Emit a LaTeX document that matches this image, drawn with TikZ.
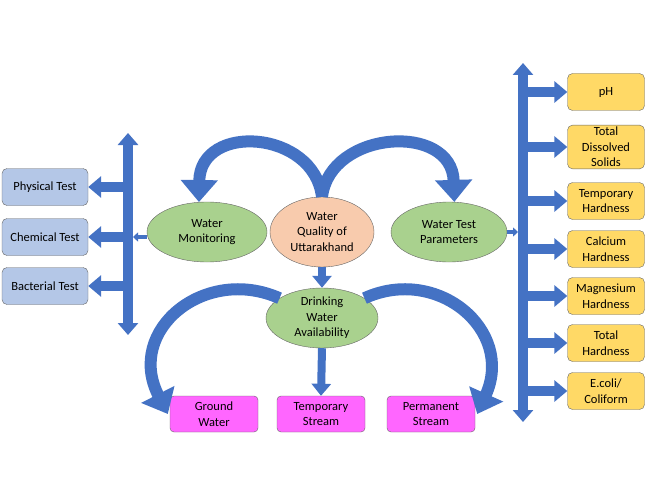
\documentclass[tikz,border=0pt]{standalone}
\usepackage{fontspec}
\setmainfont{Carlito}
\usetikzlibrary{arrows.meta,shapes.geometric,positioning}
\definecolor{barBlue}{RGB}{68,114,196}
\definecolor{boxBlue}{RGB}{180,199,231}
\definecolor{boxGold}{RGB}{255,217,102}
\definecolor{boxPink}{RGB}{255,102,255}
\definecolor{ellGreen}{RGB}{169,209,142}
\definecolor{ellPeach}{RGB}{248,203,173}

\tikzset{
  lbox/.style={draw=black!60,fill=boxBlue,rounded corners=5pt,minimum width=86pt,minimum height=37pt,align=center,inner sep=2pt},
  rbox/.style={draw=black!60,fill=boxGold,rounded corners=5pt,minimum width=77pt,minimum height=37pt,align=center,inner sep=2pt},
  bbox/.style={draw=black!60,fill=boxPink,rounded corners=4pt,minimum width=88pt,minimum height=36pt,align=center,inner sep=2pt},
  gell/.style={ellipse,draw=black!60,fill=ellGreen,align=center,inner sep=0pt},
  bar/.style={draw=barBlue,line width=10pt,{Triangle[length=12pt,width=20pt]}-{Triangle[length=12pt,width=20pt]}},
  branch/.style={draw=barBlue,line width=10pt,-{Triangle[length=13pt,width=21pt]}},
  downarrow/.style={draw=barBlue,line width=8pt,-{Triangle[length=12pt,width=19pt]}},
  thinarrow/.style={draw=barBlue,line width=3.5pt,-{Triangle[length=5pt,width=9pt]}},
  curvearrow/.style={draw=barBlue,line width=12pt,-{Triangle[length=22pt,width=36pt]}},
}

\begin{document}
\begin{tikzpicture}[x=1pt,y=-1pt,font=\fontsize{12.5}{15.5}\selectfont]
\useasboundingbox (0,0) rectangle (650,500);

% the ellipses
\node[gell,minimum width=120pt,minimum height=60pt] (wm) at (207,232) {Water\\Monitoring};
\node[ellipse,draw=black!60,fill=ellPeach,align=center,inner sep=0pt,minimum width=104pt,minimum height=70pt] (wq) at (322,232) {Water\\Quality of\\Uttarakhand};
\node[gell,minimum width=116pt,minimum height=60pt] (wtp) at (449,232) {Water Test\\Parameters};
\node[gell,minimum width=112pt,minimum height=60pt] (dwa) at (322,318) {Drinking\\Water\\Availability};

% left side tests
\coordinate (ltop) at (128,133);
\coordinate (lbot) at (128,335);
\draw[bar] (lbot) -- (ltop);
\foreach \name/\y/\txt in {phys/187/Physical Test,chem/237/Chemical Test,bact/286/Bacterial Test}
{
  \node[lbox] (\name) at (45,\y) {\txt};
  \draw[branch] (ltop |- \name.east) -- (\name.east);
}
\draw[thinarrow] (wm.west |- 0,237) -- (133,237);

% right side parameters
\coordinate (rtop) at (523,63);
\coordinate (rbot) at (523,422);
\draw[bar] (rbot) -- (rtop);
\foreach \name/\y/\txt in {ph/92/pH,tds/147/{Total\\Dissolved\\Solids},temp/201/{Temporary\\Hardness},calc/249/{Calcium\\Hardness},magn/296/{Magnesium\\Hardness},toth/343/{Total\\Hardness},ecoli/391/{E.coli/\\Coliform}}
{
  \node[rbox] (\name) at (606,\y) {\txt};
  \draw[branch] (rtop |- \name.west) -- (\name.west);
}
\draw[thinarrow] (wtp.east) -- (518,232);

% bottom sources
\node[bbox] (gw) at (214,414) {Ground\\Water};
\node[bbox] (ts) at (321,414) {Temporary\\Stream};
\node[bbox] (ps) at (431,414) {Permanent\\Stream};

% the arrows
\draw[downarrow] (wq.south) -- (dwa.north);
\draw[downarrow] (dwa.south) -- (ts.north);
\draw[curvearrow] (wq.north) .. controls (314,130) and (200,122) .. (wm.105);
\draw[curvearrow] (wq.north) .. controls (330,130) and (452,122) .. (wtp.80);
\draw[curvearrow] (dwa.155) .. controls (205,265) and (125,330) .. ([xshift=-2pt]gw.west);
\draw[curvearrow] (dwa.25) .. controls (437,265) and (515,330) .. ([xshift=2pt]ps.east);

\end{tikzpicture}
\end{document}
